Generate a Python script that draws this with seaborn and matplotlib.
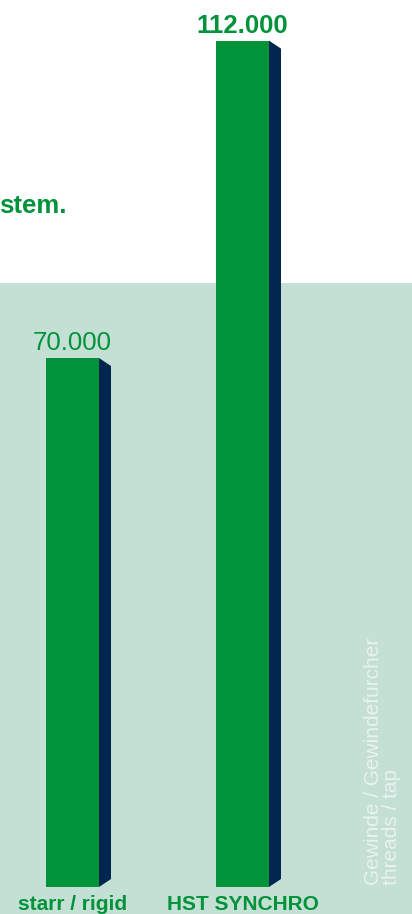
import matplotlib
matplotlib.use("Agg")
import matplotlib.pyplot as plt
import pandas as pd
import seaborn as sns
from matplotlib.patches import Polygon, Rectangle

# chart data
categories = ["starr / rigid", "HST SYNCHRO"]
values = [70000, 112000]
label_weights = ["normal", "bold"]
side_note = ["Gewinde / Gewindefurcher", "threads / tap"]
headline_tail = "stem."

GREEN = "#00933A"
NAVY = "#00264F"
BAND = "#C4DFD4"
NOTE = "#E9F3EF"

W, H = 412, 914

sns.set_theme(style="white")
plt.rcParams["font.family"] = ["Liberation Sans", "DejaVu Sans"]

df = pd.DataFrame({"category": categories, "value": values})

fig = plt.figure(figsize=(W / 100, H / 100), dpi=100)
fig.patch.set_facecolor("white")
fig.add_artist(Rectangle((0, 0), 1, 1 - 283 / H, transform=fig.transFigure,
                         facecolor=BAND, edgecolor="none", zorder=0))

# axes: baseline at 887 px from the top, whole width
ax = fig.add_axes([0, (H - 887) / H, 1, 887 / H])
ax.set_facecolor("none")
ax.set_zorder(1)

sns.barplot(data=df, x="category", y="value", hue="category",
            palette=[GREEN, GREEN], legend=False, width=53 / 170,
            saturation=1, linewidth=0, edgecolor="none", ax=ax)

ax.set_xlim(-72.5 / 170, (W - 72.5) / 170)
ax.set_ylim(0, 887 / 7.557 * 1000)

# 3d side faces
dx = 12 * (ax.get_xlim()[1] - ax.get_xlim()[0]) / W
dy = 8 * (ax.get_ylim()[1] - ax.get_ylim()[0]) / 887
for p in ax.patches[:]:
    x0 = p.get_x() + p.get_width()
    h = p.get_height()
    ax.add_patch(Polygon([(x0, h), (x0 + dx, h - dy), (x0 + dx, dy), (x0, 0)],
                         closed=True, facecolor=NAVY, edgecolor="none"))

for container, weight in zip(ax.containers, label_weights):
    ax.bar_label(container, labels=[f"{v:,.0f}".replace(",", ".") for v in container.datavalues],
                 padding=2, color=GREEN, fontsize=18.5, fontweight=weight)

ax.set_xlabel("")
ax.set_ylabel("")
ax.set_yticks([])
sns.despine(ax=ax, left=True, bottom=True)
ax.tick_params(axis="x", length=0, pad=6, labelsize=15, labelcolor=GREEN)
for lbl in ax.get_xticklabels():
    lbl.set_fontweight("bold")

# cut-off headline on the left
fig.text(67 / W, 1 - 213 / H, headline_tail, ha="right", va="baseline",
         fontsize=18.5, fontweight="bold", color=GREEN)

# vertical side note
fig.text(401 / W, 1 - 885 / H, "\n".join(side_note), rotation=90,
         rotation_mode="anchor", ha="left", va="bottom", linespacing=0.95,
         fontsize=15, color=NOTE)

fig.savefig("out.png", dpi=100)
